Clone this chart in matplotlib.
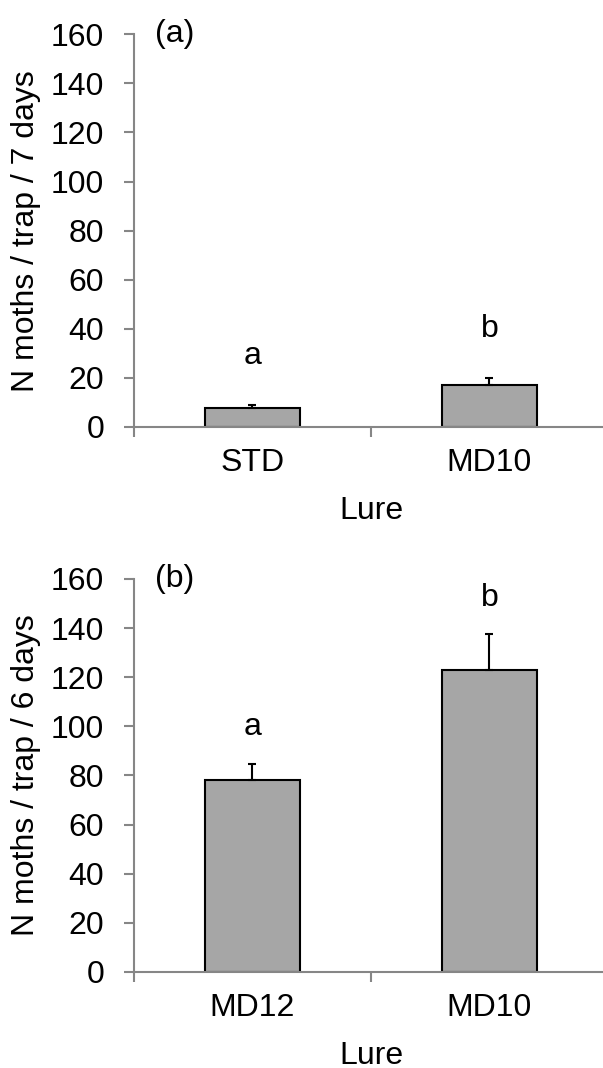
import matplotlib.pyplot as plt
from matplotlib.ticker import FixedLocator, NullFormatter

plt.rcParams['font.family'] = ['Liberation Sans', 'DejaVu Sans']

# panel (a)
lures_a = ['STD', 'MD10']
means_a = [7.6, 17.1]
errs_a = [1.4, 3.0]
letters_a = ['a', 'b']

# panel (b)
lures_b = ['MD12', 'MD10']
means_b = [78.0, 122.8]
errs_b = [6.6, 14.6]
letters_b = ['a', 'b']

yticks = [0, 20, 40, 60, 80, 100, 120, 140, 160]
gray = '#868686'
fs = 23

fig = plt.figure(figsize=(6.03, 10.68), dpi=100)


def panel(rect, lures, means, errs, letters, tag, ylabel, offset):
    ax = fig.add_axes(rect)
    x = range(len(lures))
    ax.bar(x, means, width=0.4, color='#a6a6a6', edgecolor='black', linewidth=1.5, zorder=2)
    ax.errorbar(x, means, yerr=[[0] * len(errs), errs], fmt='none', ecolor='black',
                elinewidth=1.5, capsize=3, capthick=1.5, zorder=3)
    for xi, m, e, let in zip(x, means, errs, letters):
        ax.text(xi, m + e + offset, let, ha='center', va='center', fontsize=fs)
    ax.set_xlim(-0.5, 1.479)
    ax.set_ylim(0, 160)
    ax.set_yticks(yticks)
    ax.xaxis.set_major_locator(FixedLocator([-0.5, 0.5, 1.5]))
    ax.xaxis.set_major_formatter(NullFormatter())
    ax.xaxis.set_minor_locator(FixedLocator(list(x)))
    ax.set_xticklabels(lures, minor=True)
    ax.tick_params(axis='x', which='major', direction='out', length=7, width=1.5, color=gray)
    ax.tick_params(axis='x', which='minor', length=0, pad=15, labelsize=fs)
    ax.tick_params(axis='y', direction='out', length=7, width=1.5, color=gray, pad=14, labelsize=fs)
    for s in ['top', 'right']:
        ax.spines[s].set_visible(False)
    for s in ['left', 'bottom']:
        ax.spines[s].set_color(gray)
        ax.spines[s].set_linewidth(1.5)
    ax.set_xlabel('Lure', fontsize=fs)
    ax.xaxis.set_label_coords(0.506, -0.175)
    ax.set_ylabel(ylabel, fontsize=fs)
    ax.yaxis.set_label_coords(-0.197, 0.5)
    ax.text(0.045, 1.0, tag, transform=ax.transAxes, ha='left', va='center', fontsize=fs)
    return ax


panel([0.2214, 0.6002, 0.7786, 0.3677], lures_a, means_a, errs_a, letters_a,
      '(a)', 'N moths / trap / 7 days', 20)
panel([0.2214, 0.0899, 0.7786, 0.3680], lures_b, means_b, errs_b, letters_b,
      '(b)', 'N moths / trap / 6 days', 15)

fig.savefig('out.png', dpi=100)
